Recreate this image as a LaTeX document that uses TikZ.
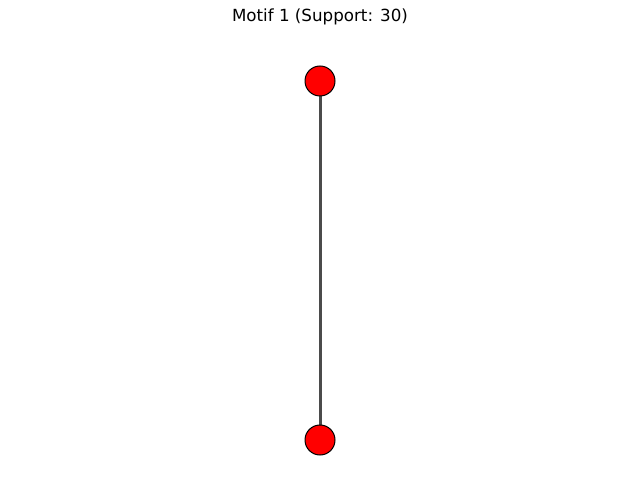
\documentclass[tikz,border=0pt]{standalone}
\usepackage{fontspec}
\setmainfont{DejaVu Sans}
\definecolor{edgegray}{RGB}{75,75,75}
\begin{document}
\begin{tikzpicture}[x=1pt,y=-1pt]
\tikzset{
  motifnode/.style={circle,draw=black,line width=1pt,fill=red,minimum size=30pt,inner sep=0pt},
  motifedge/.style={edgegray,line width=3pt}}
\useasboundingbox (0,0) rectangle (640,502);
\node[font=\fontsize{16.7}{20}\selectfont] (title) at (320,17) {Motif 1 (Support: 30)};
\coordinate (ca) at (320,81);
\coordinate (cb) at (320,440);
\draw[motifedge] (ca) -- (cb);
\node[motifnode] (a) at (ca) {};
\node[motifnode] (b) at (cb) {};
\end{tikzpicture}
\end{document}
